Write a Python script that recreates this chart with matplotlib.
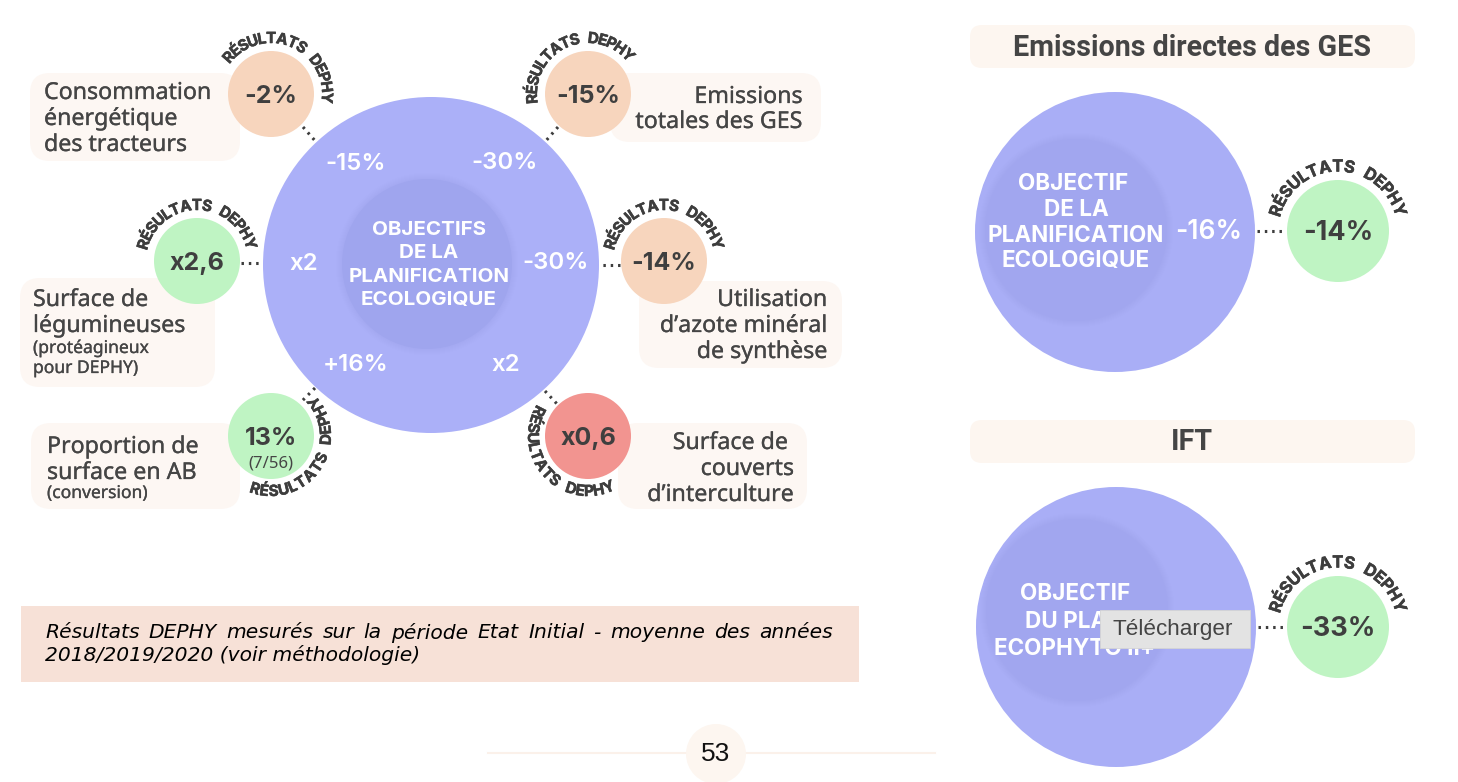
import numpy as np
import matplotlib
matplotlib.use("Agg")
import matplotlib.pyplot as plt
import matplotlib.patheffects as pe
from matplotlib.patches import Circle, FancyBboxPatch, Rectangle
from matplotlib.textpath import TextPath
from matplotlib.font_manager import FontProperties

W, H = 1458, 782
DARK = "#454545"
CREAM = "#fdf7f3"
BLUE = "#abb0f8"
BLUE_IN = "#9fa5ee"
ORANGE = "#f7d5bd"
GREEN = "#bff4c3"
RED = "#f29490"

# valeurs
badge_values = ["-2%", "-15%", "x2,6", "-14%", "13%", "x0,6", "-14%", "-33%"]
badge_colors = [ORANGE, ORANGE, GREEN, ORANGE, GREEN, RED, GREEN, GREEN]
badge_centers = [(271, 94), (588, 94), (197, 261), (664, 261), (271, 436), (588, 436), (1338, 231), (1338, 627)]
badge_radius = [43, 43, 43, 43, 43, 43, 51, 51]
# angles du texte courbe (degres, sens horaire depuis le haut)
arc_angles = [(-54, 100), (-100, 52), (-78, 78), (-78, 78), (202, 46), (302, 152), (-77, 77), (-77, 77)]

objective_values = ["-15%", "-30%", "x2", "-30%", "+16%", "x2"]
objective_pos = [(356, 164), (505, 163), (304, 264), (556, 263), (356, 365), (506, 365)]

objectif_lines = ["OBJECTIFS", "DE LA", "PLANIFICATION", "ECOLOGIQUE"]
objectif_ges = ["OBJECTIF", "DE LA", "PLANIFICATION", "ECOLOGIQUE"]
objectif_ift = ["OBJECTIF", "DU PLAN", "ECOPHYTO II+"]

# (x0, y0, x1, y1) des cartouches
label_boxes = [(30, 73, 240, 161), (610, 73, 821, 142), (20, 278, 215, 387),
               (639, 281, 842, 368), (31, 423, 240, 509), (618, 423, 807, 509)]
connectors = [((303, 127), (317, 143)), ((558, 127), (544, 143)), ((241, 263), (263, 263)),
              ((620, 265), (598, 265)), ((315, 388), (300, 403)), ((545, 391), (558, 405)),
              ((1257, 231), (1285, 231)), ((1258, 627), (1286, 627))]

note_lines = ["Résultats DEPHY mesurés sur la période Etat Initial - moyenne des années",
              "2018/2019/2020 (voir méthodologie)"]


def curved_text(ax, s, center, r, a0, a1, size=10.5):
    """lettres placees une a une sur un arc"""
    fp = FontProperties(family="Inter", weight="bold", size=size)
    widths = []
    for ch in s:
        widths.append(TextPath((0, 0), ch if ch != " " else "n", prop=fp).get_extents().width + size * 0.12)
    widths = np.array(widths)
    edges = np.concatenate([[0], np.cumsum(widths)]) / widths.sum()
    mids = (edges[:-1] + edges[1:]) / 2
    for ch, t in zip(s, mids):
        a = a0 + (a1 - a0) * t
        x = center[0] + r * np.sin(np.radians(a))
        y = center[1] - r * np.cos(np.radians(a))
        rot = -a if a1 > a0 else 180 - a
        txt = ax.text(x, y, ch, fontproperties=fp, color="#3d3d3d", rotation=rot,
                      ha="center", va="center", rotation_mode="anchor", zorder=6)
        txt.set_path_effects([pe.withStroke(linewidth=0.4, foreground="#3d3d3d")])


def soft_circle(ax, xy, r, color, zorder=2):
    # petite ombre autour du cercle interieur
    for k in range(6):
        ax.add_patch(Circle(xy, r + 6 - k, fc="#8f95e2", ec="none", alpha=0.035, zorder=zorder))
    ax.add_patch(Circle(xy, r, fc=color, ec="none", zorder=zorder))


def lines(ax, txt, x, y0, step, **kw):
    for i, s in enumerate(txt):
        xi = x[i] if isinstance(x, list) else x
        t = ax.text(xi, y0 + i * step, s, va="center", zorder=7, **kw)
        t.set_path_effects([pe.withStroke(linewidth=0.2, foreground=DARK)])


def justified(ax, fig, s, x0, x1, y, **kw):
    # espace les mots pour remplir la ligne
    words = s.split(" ")
    rend = fig.canvas.get_renderer()
    objs = [ax.text(0, y, w, va="center", zorder=7, **kw) for w in words]
    ws = [t.get_window_extent(rend).width for t in objs]
    gap = (x1 - x0 - sum(ws)) / (len(words) - 1)
    x = x0
    for t, w in zip(objs, ws):
        t.set_x(x)
        x += w + gap


fig = plt.figure(figsize=(W / 100, H / 100), dpi=100)
ax = fig.add_axes([0, 0, 1, 1])
ax.set_xlim(0, W)
ax.set_ylim(H, 0)
ax.axis("off")

for x0, y0, x1, y1 in label_boxes:
    ax.add_patch(FancyBboxPatch((x0 + 20, y0 + 20), x1 - x0 - 40, y1 - y0 - 40,
                                boxstyle="round,pad=20,rounding_size=20", fc=CREAM, ec="none", zorder=1))

# grand cercle gauche
ax.add_patch(Circle((431, 265), 168, fc=BLUE, ec="none", zorder=2))
soft_circle(ax, (427, 264), 85, BLUE_IN, zorder=3)
for i, s in enumerate(objectif_lines):
    ax.text(429, 230 + i * 23.5, s, color="white", fontsize=14.8, fontweight="bold",
            family="Inter", ha="center", va="center", zorder=7)
for val, (x, y) in zip(objective_values, objective_pos):
    ax.text(x, y, val, color="white", fontsize=17.3, fontweight="semibold", family="Inter",
            ha="center", va="center", zorder=7)

# cercles de droite
ax.add_patch(Circle((1115, 232), 140, fc="#a9aef6", ec="none", zorder=2))
soft_circle(ax, (1076, 230), 91, "#a1a6ef", zorder=3)
for s, x, y in zip(objectif_ges, [1073, 1076, 1076, 1076], [184, 210, 236, 261]):
    ax.text(x, y, s, color="white", fontsize=16.2, fontweight="bold", family="Inter",
            ha="center", va="center", zorder=7)
ax.text(1209, 232, "-16%", color="white", fontsize=19, fontweight="semibold", family="Inter",
        ha="center", va="center", zorder=7)

ax.add_patch(Circle((1116, 627), 140, fc="#a9aef6", ec="none", zorder=2))
soft_circle(ax, (1077, 610), 91, "#a1a6ef", zorder=3)
for s, x, y in zip(objectif_ift, [1075, 1075, 1075], [594, 622, 649]):
    ax.text(x, y, s, color="white", fontsize=16.2, fontweight="bold", family="Inter",
            ha="center", va="center", zorder=7)

# pastilles resultats
for val, col, c, r, (a0, a1) in zip(badge_values, badge_colors, badge_centers, badge_radius, arc_angles):
    ax.add_patch(Circle(c, r, fc=col, ec="none", zorder=4))
    big = r > 45
    ax.text(c[0], c[1] + 2.5, val, color="#3f3f3f", fontsize=19.5 if big else 18, fontweight="bold",
            family="Inter", ha="center", va="center", zorder=7)
    curved_text(ax, "RÉSULTATS DEPHY", c, r + (13 if big else 12.5), a0, a1, size=12 if big else 11)
ax.text(271, 464, "(7/56)", color=DARK, fontsize=12, family="Noto Sans", ha="center", va="center", zorder=7)

for (p0, p1) in connectors:
    ax.plot([p0[0], p1[0]], [p0[1], p1[1]], color="#3d3d3d", lw=2.2, ls=(0, (0.8, 1.6)), zorder=3)

# textes des cartouches
kw = dict(color=DARK, fontsize=16.7, family="Noto Sans")
small = dict(color=DARK, fontsize=12.6, family="Noto Sans")
lines(ax, ["Consommation", "énergétique", "des tracteurs"], 44, 93, 26, ha="left", **kw)
lines(ax, ["Emissions", "totales des GES"], 802, 97, 25, ha="right", **kw)
lines(ax, ["Surface de", "légumineuses"], 33, 300, 26, ha="left", **kw)
lines(ax, ["(protéagineux", "pour DEPHY)"], 33, 348, 20, ha="left", **small)
lines(ax, ["Utilisation", "d’azote minéral", "de synthèse"], 827, 300, 26, ha="right", **kw)
lines(ax, ["Proportion de", "surface en AB"], 47, 447, 26, ha="left", **kw)
lines(ax, ["(conversion)"], 47, 493, 0, ha="left", **small)
lines(ax, ["Surface de", "couverts", "d’interculture"], [788, 794, 794], 443, 26, ha="right", **kw)

# encart methodo
ax.add_patch(Rectangle((21, 606), 838, 76, fc="#f7e1d7", ec="none", zorder=1))
note_kw = dict(fontsize=14.6, style="italic", family="DejaVu Sans", color="black")
justified(ax, fig, note_lines[0], 45, 833, 633, **note_kw)
ax.text(45, 655, note_lines[1], va="center", zorder=7, **note_kw)

# titres a droite
for (y0, y1), title in zip([(25, 68), (420, 463)], ["Emissions directes des GES", "IFT"]):
    ax.add_patch(FancyBboxPatch((982, y0 + 12), 421, y1 - y0 - 24, boxstyle="round,pad=12,rounding_size=12",
                                fc="#fdf6f0", ec="none", zorder=1))
    ax.text(1192, (y0 + y1) / 2 + 1, title, color=DARK, fontsize=20.6, fontweight="bold", family="Roboto",
            ha="center", va="center", zorder=7)

# bouton Telecharger
ax.add_patch(Rectangle((1100, 610), 150, 38, fc="#e3e3e3", ec="#d4d4d4", lw=0.6, zorder=9))
ax.text(1113, 629, "Télécharger", color="#444444", fontsize=16.2, family="Liberation Sans", va="center", zorder=10)

# numero de page
ax.plot([488, 935], [753, 753], color="#fbf1ea", lw=1.5, zorder=1)
ax.add_patch(Circle((716, 754), 30, fc="#fdf6f0", ec="none", zorder=2))
ax.text(716, 754, "53", color="#111111", fontsize=19, family="Liberation Sans", ha="center", va="center", zorder=7)

fig.savefig("out.png", dpi=100)
